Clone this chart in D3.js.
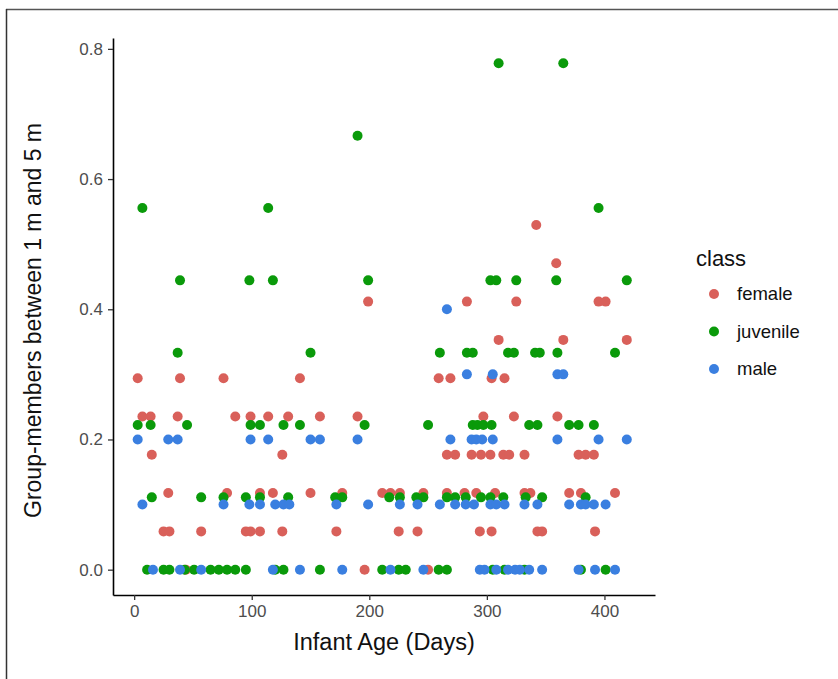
<!DOCTYPE html>
<html>
<head>
<meta charset="utf-8">
<script src="https://cdn.jsdelivr.net/npm/d3@7"></script>
<style>
  body { margin: 0; background: #fff; }
  text { font-family: "Liberation Sans", Arial, sans-serif; }
</style>
</head>
<body>
<div id="chart"></div>
<script>
// classes and their colours
const classes = ["female", "juvenile", "male"];
const colors = ["#d9605a", "#0a9a0a", "#3a7fe0"];

// female: proportion k/17, days listed per k
const femaleDays = {
  9: [342],
  8: [359],
  7: [199, 283, 325, 395, 401],
  6: [310, 365, 419],
  5: [3, 39, 76, 141, 259, 269, 304, 315],
  4: [7, 14, 37, 86, 99, 114, 131, 158, 190, 297, 323, 360],
  3: [15, 126, 266, 273, 287, 295, 303, 314, 319, 332, 378, 384, 391],
  2: [29, 79, 107, 118, 150, 177, 211, 218, 226, 246, 266, 281, 291, 307, 332, 337, 370, 380, 409],
  1: [25, 30, 57, 95, 99, 107, 126, 172, 225, 241, 294, 304, 343, 347, 392],
  0: [44, 196, 250]
};

// juvenile: proportion k/9
const juvenileDays = {
  7: [310, 365],
  6: [190],
  5: [7, 114, 395],
  4: [39, 98, 118, 199, 303, 308, 325, 359, 419],
  3: [37, 150, 260, 283, 288, 318, 323, 341, 345, 360, 409],
  2: [3, 14, 45, 99, 107, 127, 141, 196, 250, 288, 292, 297, 304, 336, 343, 370, 378, 391],
  1: [15, 57, 76, 95, 107, 131, 171, 177, 217, 226, 240, 246, 266, 273, 282, 295, 303, 314, 333, 347, 384],
  0: [11, 25, 30, 43, 51, 65, 72, 79, 86, 95, 120, 127, 158, 211, 225, 231, 259, 266, 305, 315, 332, 380, 401]
};

// male: proportion k/10
const maleDays = {
  4: [266],
  3: [283, 305, 360, 365],
  2: [3, 29, 37, 99, 114, 150, 158, 190, 269, 287, 291, 296, 305, 360, 395, 419],
  1: [7, 76, 98, 107, 120, 127, 132, 172, 199, 226, 241, 260, 273, 282, 289, 303, 308, 315, 332, 343, 370, 380, 384, 391, 401],
  0: [16, 39, 57, 118, 141, 177, 218, 246, 294, 298, 308, 318, 324, 328, 336, 347, 378, 392, 409]
};

const xTicks = [0, 100, 200, 300, 400];
const yTicks = [0, 0.2, 0.4, 0.6, 0.8];

// flatten into rows
function rows(obj, denom, cls) {
  let out = [];
  Object.keys(obj).forEach(function(k) {
    obj[k].forEach(function(d) { out.push({age: d, value: +k / denom, cls: cls}); });
  });
  return out;
}
let data = rows(femaleDays, 17, "female")
  .concat(rows(juvenileDays, 9, "juvenile"))
  .concat(rows(maleDays, 10, "male"));

const W = 838, H = 679;
let margin = {top: 38, right: 183, bottom: 84, left: 113},
    width = W - margin.left - margin.right,
    height = H - margin.top - margin.bottom;

let svg = d3.select("#chart").append("svg")
  .attr("width", W).attr("height", H);

// outer frame (top and left edges visible)
svg.append("line").attr("x1", 6).attr("x2", W).attr("y1", 9.5).attr("y2", 9.5)
  .attr("stroke", "#555").attr("stroke-width", 1.5);
svg.append("line").attr("x1", 6.5).attr("x2", 6.5).attr("y1", 9).attr("y2", H)
  .attr("stroke", "#333").attr("stroke-width", 1.5);

let g = svg.append("g")
  .attr("transform", "translate(" + margin.left + "," + margin.top + ")");

let x = d3.scaleLinear().domain([-18, 443]).range([0, width]);
let y = d3.scaleLinear().domain([-0.0389, 0.8167]).range([height, 0]);
let color = d3.scaleOrdinal().domain(classes).range(colors);

// points
g.append("g").selectAll("circle")
  .data(data)
  .enter().append("circle")
    .attr("cx", function(d) { return x(d.age); })
    .attr("cy", function(d) { return y(d.value); })
    .attr("r", 5)
    .attr("fill", function(d) { return color(d.cls); });

// axes
let xAxis = g.append("g")
  .attr("transform", "translate(0," + height + ")")
  .call(d3.axisBottom(x).tickValues(xTicks).tickSize(5).tickSizeOuter(0).tickPadding(5).tickFormat(d3.format("d")));
let yAxis = g.append("g")
  .call(d3.axisLeft(y).tickValues(yTicks).tickSize(5).tickSizeOuter(0).tickPadding(5).tickFormat(d3.format(".1f")));

[xAxis, yAxis].forEach(function(a) {
  a.select(".domain").attr("stroke", "#000").attr("stroke-width", 1.6);
  a.selectAll(".tick line").attr("stroke", "#333").attr("stroke-width", 1.3);
  a.selectAll(".tick text").attr("fill", "#4d4d4d").style("font-size", "17px")
    .style("font-family", "Liberation Sans, Arial, sans-serif");
});

// axis titles, centred on the panel
svg.append("text")
  .attr("x", margin.left + width / 2).attr("y", 650)
  .attr("text-anchor", "middle")
  .style("font-size", "23.5px").attr("fill", "#111")
  .text("Infant Age (Days)");
svg.append("text")
  .attr("transform", "translate(41," + (margin.top + height / 2 + 4) + ") rotate(-90)")
  .attr("text-anchor", "middle")
  .style("font-size", "23px").attr("fill", "#111")
  .text("Group-members between 1 m and 5 m");

// legend
let legend = svg.append("g").attr("transform", "translate(696,0)");
legend.append("text").attr("x", 0).attr("y", 266)
  .style("font-size", "22px").attr("fill", "#111").text("class");
classes.forEach(function(c, i) {
  let yy = 294 + i * 37.5;
  legend.append("circle").attr("cx", 18).attr("cy", yy).attr("r", 5).attr("fill", color(c));
  legend.append("text").attr("x", 41).attr("y", yy + 6)
    .style("font-size", "18.5px").attr("fill", "#111").text(c);
});
</script>
</body>
</html>
